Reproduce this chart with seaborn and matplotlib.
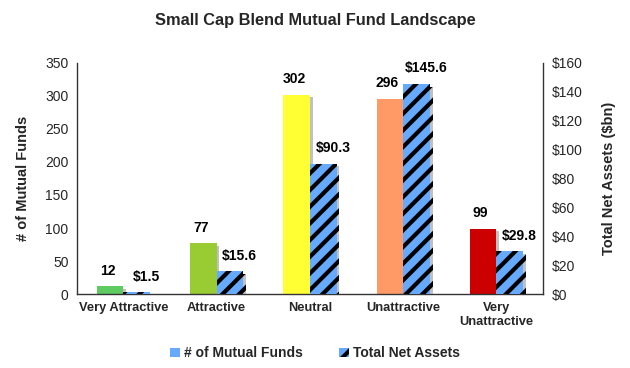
import matplotlib
matplotlib.use("Agg")
import matplotlib.pyplot as plt
import matplotlib.patheffects as pe
from matplotlib.patches import Patch
import seaborn as sns
import pandas as pd

categories = ["Very Attractive", "Attractive", "Neutral", "Unattractive", "Very\nUnattractive"]
num_funds = [12, 77, 302, 296, 99]
net_assets = [1.5, 15.6, 90.3, 145.6, 29.8]
fund_colors = ["#5DCB60", "#99CC33", "#FFFF33", "#FF9966", "#CC0000"]
series_names = ["# of Mutual Funds", "Total Net Assets"]
left_ticks = [0, 50, 100, 150, 200, 250, 300, 350]
right_ticks = [0, 20, 40, 60, 80, 100, 120, 140, 160]

sns.set_theme(style="white")
plt.rcParams["font.family"] = ["Liberation Sans", "DejaVu Sans"]
plt.rcParams["hatch.linewidth"] = 3.0
plt.rcParams["hatch.color"] = "black"

zeros = [0] * len(categories)
# each axis gets both series so that seaborn dodges the bars side by side;
# the series belonging to the other axis is given zero height there
df_f = pd.DataFrame({"cat": categories * 2, "val": num_funds + zeros,
                     "series": [series_names[0]] * 5 + [series_names[1]] * 5})
df_a = pd.DataFrame({"cat": categories * 2, "val": zeros + net_assets,
                     "series": [series_names[0]] * 5 + [series_names[1]] * 5})

fig = plt.figure(figsize=(6.3, 3.68), dpi=100)
ax = fig.add_axes([0.122, 0.201, 0.740, 0.628])
ax2 = ax.twinx()

shadow = [pe.SimplePatchShadow(offset=(2, -2), shadow_rgbFace="#999999", alpha=0.6), pe.Normal()]

sns.barplot(data=df_f, x="cat", y="val", hue="series", hue_order=series_names,
            order=categories, ax=ax, width=0.57, gap=0, legend=False,
            palette=["#66AAFF", "#66AAFF"], saturation=1)
sns.barplot(data=df_a, x="cat", y="val", hue="series", hue_order=series_names,
            order=categories, ax=ax2, width=0.57, gap=0, legend=False,
            palette=["#66AAFF", "#66AAFF"], saturation=1)

for a in (ax, ax2):
    for p in a.patches:
        if p.get_height() <= 0:
            p.set_visible(False)

fund_bars = [p for p in ax.patches if p.get_height() > 0]
for p, c, v in zip(fund_bars, fund_colors, num_funds):
    p.set_facecolor(c)
    p.set_edgecolor("none")
    p.set_path_effects(shadow)
    ax.annotate(f"{v}", (p.get_x() + p.get_width() / 2, p.get_height()),
                xytext=(-2, 6), textcoords="offset points", ha="center", va="bottom",
                fontsize=10, fontweight="bold", color="black")

asset_bars = [p for p in ax2.patches if p.get_height() > 0]
for p, v in zip(asset_bars, net_assets):
    p.set_facecolor("#66AAFF")
    p.set_edgecolor("black")
    p.set_linewidth(0)
    p.set_hatch("//")
    p.set_path_effects(shadow)
    ax2.annotate(f"${v}", (p.get_x() + p.get_width() / 2, p.get_height()),
                 xytext=(7, 6), textcoords="offset points", ha="center", va="bottom",
                 fontsize=10, fontweight="bold", color="black")

ax.set_xlim(-0.5, len(categories) - 0.5)
ax.set_ylim(0, 350)
ax2.set_ylim(0, 160)
ax.set_yticks(left_ticks)
ax.set_yticklabels([str(t) for t in left_ticks], fontsize=10)
ax2.set_yticks(right_ticks)
ax2.set_yticklabels([f"${t}" for t in right_ticks], fontsize=10)

ax.set_xticks(range(len(categories)))
ax.set_xticklabels(categories, fontsize=9.3, fontweight="bold")
ax.tick_params(axis="x", length=0, pad=6)
ax.tick_params(axis="y", length=0, pad=6)
ax2.tick_params(axis="y", length=0, pad=6)
ax.set_xticks([i + 0.5 for i in range(-1, len(categories))], minor=True)
ax.tick_params(axis="x", which="minor", length=4, width=1, color="#555555", direction="out")

ax.set_xlabel("")
ax.set_ylabel("# of Mutual Funds", fontsize=10.5, fontweight="bold", labelpad=11)
ax2.set_ylabel("Total Net Assets ($bn)", fontsize=10.5, fontweight="bold", labelpad=14)

for a in (ax, ax2):
    a.spines["top"].set_visible(False)
    for s in ("left", "right", "bottom"):
        a.spines[s].set_color("#333333")
        a.spines[s].set_linewidth(1.0)
ax.spines["right"].set_visible(False)
ax2.spines["left"].set_visible(False)
ax2.spines["bottom"].set_visible(False)

fig.suptitle("Small Cap Blend Mutual Fund Landscape", x=0.5, y=0.965,
             fontsize=11.8, fontweight="bold")

handles = [Patch(facecolor="#66AAFF", edgecolor="none"),
           Patch(facecolor="#66AAFF", edgecolor="black", hatch="//", linewidth=0)]
fig.legend(handles, series_names, loc="center", bbox_to_anchor=(0.5, 0.04), ncol=2,
           frameon=False, prop={"weight": "bold", "size": 10},
           handlelength=0.7, handleheight=0.7, handletextpad=0.3, columnspacing=2.6)

fig.savefig("out.png", dpi=100)
